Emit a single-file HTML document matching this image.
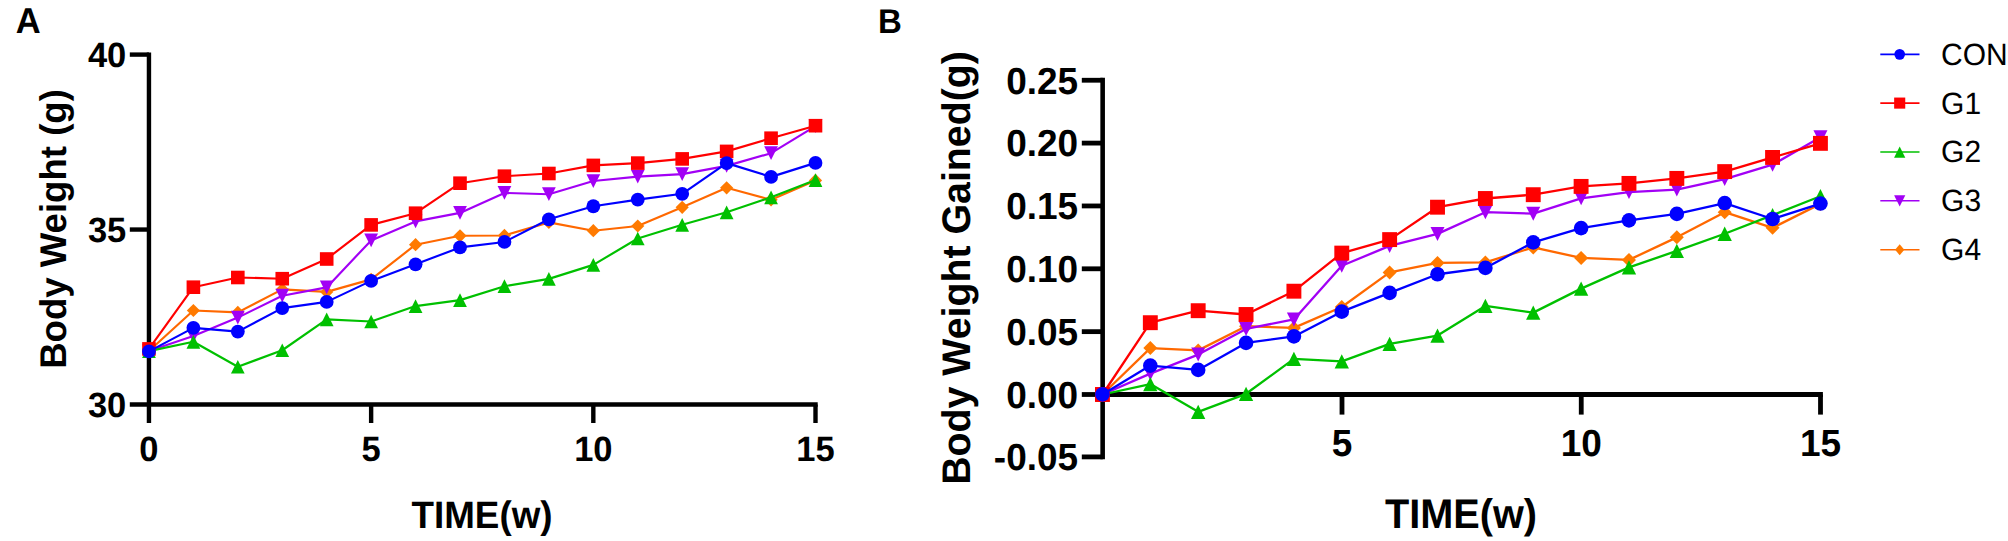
<!DOCTYPE html>
<html lang="en"><head><meta charset="utf-8"><title>Body weight</title>
<style>html,body{margin:0;padding:0;background:#fff}body{width:2008px;height:541px;overflow:hidden}svg{display:block}text{text-rendering:geometricPrecision}</style>
</head><body>
<svg width="2008" height="541" viewBox="0 0 2008 541">
<rect width="2008" height="541" fill="#fff"/>
<g font-family="'Liberation Sans', Arial, Helvetica, sans-serif" font-weight="bold" fill="#000">
<text transform="translate(15.70,33.20) scale(1,1.04)" font-size="34.5">A</text>
<text transform="translate(878.00,32.90) scale(1,1.04)" font-size="33.0">B</text>
<g stroke="#000" stroke-width="4.4" fill="none" stroke-linecap="butt">
<line x1="148.95" y1="52.4" x2="148.95" y2="423.0"/>
<line x1="129.8" y1="404.5" x2="817.7" y2="404.5"/>
<line x1="129.8" y1="54.6" x2="148.95" y2="54.6"/>
<line x1="129.8" y1="229.55" x2="148.95" y2="229.55"/>
<line x1="371.13" y1="404.5" x2="371.13" y2="423.0"/>
<line x1="593.32" y1="404.5" x2="593.32" y2="423.0"/>
<line x1="815.50" y1="404.5" x2="815.50" y2="423.0"/>
</g>
<text transform="translate(126.30,67.20) scale(1,1.02)" font-size="34.5" text-anchor="end">40</text>
<text transform="translate(126.30,242.15) scale(1,1.02)" font-size="34.5" text-anchor="end">35</text>
<text transform="translate(126.30,417.10) scale(1,1.02)" font-size="34.5" text-anchor="end">30</text>
<text transform="translate(148.95,460.70) scale(1,1.02)" font-size="34.5" text-anchor="middle">0</text>
<text transform="translate(371.13,460.70) scale(1,1.02)" font-size="34.5" text-anchor="middle">5</text>
<text transform="translate(593.32,460.70) scale(1,1.02)" font-size="34.5" text-anchor="middle">10</text>
<text transform="translate(815.50,460.70) scale(1,1.02)" font-size="34.5" text-anchor="middle">15</text>
<text transform="translate(66.00,229.00) rotate(-90) scale(1,1.015)" font-size="36.6" text-anchor="middle">Body Weight (g)</text>
<text transform="translate(482.00,527.90) scale(1,1.04)" font-size="36.8" text-anchor="middle">TIME(w)</text>
<g stroke="#000" stroke-width="4.8" fill="none">
<line x1="1102.65" y1="77.85" x2="1102.65" y2="459.29999999999995" stroke-width="4.6"/>
<line x1="1102.75" y1="394.5" x2="1822.9" y2="394.5"/>
<line x1="1081.8" y1="80.25" x2="1102.75" y2="80.25"/>
<line x1="1081.8" y1="143.10" x2="1102.75" y2="143.10"/>
<line x1="1081.8" y1="205.95" x2="1102.75" y2="205.95"/>
<line x1="1081.8" y1="268.80" x2="1102.75" y2="268.80"/>
<line x1="1081.8" y1="331.65" x2="1102.75" y2="331.65"/>
<line x1="1081.8" y1="394.50" x2="1102.75" y2="394.50"/>
<line x1="1081.8" y1="456.90" x2="1102.75" y2="456.90"/>
<line x1="1342.00" y1="394.5" x2="1342.00" y2="414.6"/>
<line x1="1581.25" y1="394.5" x2="1581.25" y2="414.6"/>
<line x1="1820.50" y1="394.5" x2="1820.50" y2="414.6"/>
</g>
<text transform="translate(1078.20,93.55) scale(1,1.02)" font-size="37.0" text-anchor="end">0.25</text>
<text transform="translate(1078.20,156.40) scale(1,1.02)" font-size="37.0" text-anchor="end">0.20</text>
<text transform="translate(1078.20,219.25) scale(1,1.02)" font-size="37.0" text-anchor="end">0.15</text>
<text transform="translate(1078.20,282.10) scale(1,1.02)" font-size="37.0" text-anchor="end">0.10</text>
<text transform="translate(1078.20,344.95) scale(1,1.02)" font-size="37.0" text-anchor="end">0.05</text>
<text transform="translate(1078.20,407.80) scale(1,1.02)" font-size="37.0" text-anchor="end">0.00</text>
<text transform="translate(1078.20,470.20) scale(1,1.02)" font-size="37.0" text-anchor="end">-0.05</text>
<text transform="translate(1342.00,455.50) scale(1,1.02)" font-size="37.0" text-anchor="middle">5</text>
<text transform="translate(1581.25,455.50) scale(1,1.02)" font-size="37.0" text-anchor="middle">10</text>
<text transform="translate(1820.50,455.50) scale(1,1.02)" font-size="37.0" text-anchor="middle">15</text>
<text transform="translate(970.30,268.00) rotate(-90) scale(1,1.015)" font-size="39.3" text-anchor="middle">Body Weight Gained(g)</text>
<text transform="translate(1461.00,527.70) scale(1,1.04)" font-size="39.7" text-anchor="middle">TIME(w)</text>
</g>
<polyline points="148.95,351.00 193.39,310.50 237.82,312.40 282.26,289.40 326.70,291.90 371.13,279.40 415.57,244.70 460.01,235.80 504.45,235.45 548.88,222.40 593.32,230.70 637.76,226.00 682.19,207.30 726.63,187.80 771.07,199.80 815.50,180.40" fill="none" stroke="#FF6800" stroke-width="2.15" stroke-linejoin="round"/>
<polygon points="148.95,344.40 155.55,351.00 148.95,357.60 142.35,351.00" fill="#FF7A00"/>
<polygon points="193.39,303.90 199.99,310.50 193.39,317.10 186.79,310.50" fill="#FF7A00"/>
<polygon points="237.82,305.80 244.42,312.40 237.82,319.00 231.22,312.40" fill="#FF7A00"/>
<polygon points="282.26,282.80 288.86,289.40 282.26,296.00 275.66,289.40" fill="#FF7A00"/>
<polygon points="326.70,285.30 333.30,291.90 326.70,298.50 320.10,291.90" fill="#FF7A00"/>
<polygon points="371.13,272.80 377.74,279.40 371.13,286.00 364.53,279.40" fill="#FF7A00"/>
<polygon points="415.57,238.10 422.17,244.70 415.57,251.30 408.97,244.70" fill="#FF7A00"/>
<polygon points="460.01,229.20 466.61,235.80 460.01,242.40 453.41,235.80" fill="#FF7A00"/>
<polygon points="504.45,228.85 511.05,235.45 504.45,242.05 497.85,235.45" fill="#FF7A00"/>
<polygon points="548.88,215.80 555.48,222.40 548.88,229.00 542.28,222.40" fill="#FF7A00"/>
<polygon points="593.32,224.10 599.92,230.70 593.32,237.30 586.72,230.70" fill="#FF7A00"/>
<polygon points="637.76,219.40 644.36,226.00 637.76,232.60 631.16,226.00" fill="#FF7A00"/>
<polygon points="682.19,200.70 688.79,207.30 682.19,213.90 675.59,207.30" fill="#FF7A00"/>
<polygon points="726.63,181.20 733.23,187.80 726.63,194.40 720.03,187.80" fill="#FF7A00"/>
<polygon points="771.07,193.20 777.67,199.80 771.07,206.40 764.47,199.80" fill="#FF7A00"/>
<polygon points="815.50,173.80 822.10,180.40 815.50,187.00 808.90,180.40" fill="#FF7A00"/>
<polyline points="148.95,351.00 193.39,336.00 237.82,317.60 282.26,295.70 326.70,287.40 371.13,240.40 415.57,221.40 460.01,212.90 504.45,192.90 548.88,194.20 593.32,181.05 637.76,176.60 682.19,174.10 726.63,165.90 771.07,153.20 815.50,126.20" fill="none" stroke="#A200F5" stroke-width="2.15" stroke-linejoin="round"/>
<polygon points="142.10,344.15 155.80,344.15 148.95,357.85" fill="#A200F5"/>
<polygon points="186.54,329.15 200.24,329.15 193.39,342.85" fill="#A200F5"/>
<polygon points="230.97,310.75 244.67,310.75 237.82,324.45" fill="#A200F5"/>
<polygon points="275.41,288.85 289.11,288.85 282.26,302.55" fill="#A200F5"/>
<polygon points="319.85,280.55 333.55,280.55 326.70,294.25" fill="#A200F5"/>
<polygon points="364.28,233.55 377.99,233.55 371.13,247.25" fill="#A200F5"/>
<polygon points="408.72,214.55 422.42,214.55 415.57,228.25" fill="#A200F5"/>
<polygon points="453.16,206.05 466.86,206.05 460.01,219.75" fill="#A200F5"/>
<polygon points="497.60,186.05 511.30,186.05 504.45,199.75" fill="#A200F5"/>
<polygon points="542.03,187.35 555.73,187.35 548.88,201.05" fill="#A200F5"/>
<polygon points="586.47,174.20 600.17,174.20 593.32,187.90" fill="#A200F5"/>
<polygon points="630.91,169.75 644.61,169.75 637.76,183.45" fill="#A200F5"/>
<polygon points="675.34,167.25 689.04,167.25 682.19,180.95" fill="#A200F5"/>
<polygon points="719.78,159.05 733.48,159.05 726.63,172.75" fill="#A200F5"/>
<polygon points="764.22,146.35 777.92,146.35 771.07,160.05" fill="#A200F5"/>
<polygon points="808.65,119.35 822.35,119.35 815.50,133.05" fill="#A200F5"/>
<polyline points="148.95,351.10 193.39,341.80 237.82,366.75 282.26,350.25 326.70,319.40 371.13,321.50 415.57,306.10 460.01,300.10 504.45,286.20 548.88,278.85 593.32,264.90 637.76,238.50 682.19,224.80 726.63,212.30 771.07,197.30 815.50,180.10" fill="none" stroke="#00C000" stroke-width="2.15" stroke-linejoin="round"/>
<polygon points="148.95,344.25 155.80,357.95 142.10,357.95" fill="#00C000"/>
<polygon points="193.39,334.95 200.24,348.65 186.54,348.65" fill="#00C000"/>
<polygon points="237.82,359.90 244.67,373.60 230.97,373.60" fill="#00C000"/>
<polygon points="282.26,343.40 289.11,357.10 275.41,357.10" fill="#00C000"/>
<polygon points="326.70,312.55 333.55,326.25 319.85,326.25" fill="#00C000"/>
<polygon points="371.13,314.65 377.99,328.35 364.28,328.35" fill="#00C000"/>
<polygon points="415.57,299.25 422.42,312.95 408.72,312.95" fill="#00C000"/>
<polygon points="460.01,293.25 466.86,306.95 453.16,306.95" fill="#00C000"/>
<polygon points="504.45,279.35 511.30,293.05 497.60,293.05" fill="#00C000"/>
<polygon points="548.88,272.00 555.73,285.70 542.03,285.70" fill="#00C000"/>
<polygon points="593.32,258.05 600.17,271.75 586.47,271.75" fill="#00C000"/>
<polygon points="637.76,231.65 644.61,245.35 630.91,245.35" fill="#00C000"/>
<polygon points="682.19,217.95 689.04,231.65 675.34,231.65" fill="#00C000"/>
<polygon points="726.63,205.45 733.48,219.15 719.78,219.15" fill="#00C000"/>
<polygon points="771.07,190.45 777.92,204.15 764.22,204.15" fill="#00C000"/>
<polygon points="815.50,173.25 822.35,186.95 808.65,186.95" fill="#00C000"/>
<polyline points="148.95,348.90 193.39,287.20 237.82,277.50 282.26,278.70 326.70,259.00 371.13,224.90 415.57,213.20 460.01,183.20 504.45,176.20 548.88,173.50 593.32,165.40 637.76,163.10 682.19,158.90 726.63,151.40 771.07,138.20 815.50,125.70" fill="none" stroke="#FF0000" stroke-width="2.15" stroke-linejoin="round"/>
<rect x="142.15" y="342.10" width="13.60" height="13.60" fill="#FF0000"/>
<rect x="186.59" y="280.40" width="13.60" height="13.60" fill="#FF0000"/>
<rect x="231.02" y="270.70" width="13.60" height="13.60" fill="#FF0000"/>
<rect x="275.46" y="271.90" width="13.60" height="13.60" fill="#FF0000"/>
<rect x="319.90" y="252.20" width="13.60" height="13.60" fill="#FF0000"/>
<rect x="364.33" y="218.10" width="13.60" height="13.60" fill="#FF0000"/>
<rect x="408.77" y="206.40" width="13.60" height="13.60" fill="#FF0000"/>
<rect x="453.21" y="176.40" width="13.60" height="13.60" fill="#FF0000"/>
<rect x="497.65" y="169.40" width="13.60" height="13.60" fill="#FF0000"/>
<rect x="542.08" y="166.70" width="13.60" height="13.60" fill="#FF0000"/>
<rect x="586.52" y="158.60" width="13.60" height="13.60" fill="#FF0000"/>
<rect x="630.96" y="156.30" width="13.60" height="13.60" fill="#FF0000"/>
<rect x="675.39" y="152.10" width="13.60" height="13.60" fill="#FF0000"/>
<rect x="719.83" y="144.60" width="13.60" height="13.60" fill="#FF0000"/>
<rect x="764.27" y="131.40" width="13.60" height="13.60" fill="#FF0000"/>
<rect x="808.70" y="118.90" width="13.60" height="13.60" fill="#FF0000"/>
<polyline points="148.95,351.40 193.39,327.85 237.82,331.60 282.26,308.10 326.70,301.90 371.13,280.90 415.57,264.35 460.01,247.40 504.45,241.95 548.88,219.30 593.32,206.25 637.76,199.60 682.19,193.80 726.63,163.10 771.07,176.90 815.50,162.90" fill="none" stroke="#0000FF" stroke-width="2.15" stroke-linejoin="round"/>
<circle cx="148.95" cy="351.40" r="6.90" fill="#0000FF"/>
<circle cx="193.39" cy="327.85" r="6.90" fill="#0000FF"/>
<circle cx="237.82" cy="331.60" r="6.90" fill="#0000FF"/>
<circle cx="282.26" cy="308.10" r="6.90" fill="#0000FF"/>
<circle cx="326.70" cy="301.90" r="6.90" fill="#0000FF"/>
<circle cx="371.13" cy="280.90" r="6.90" fill="#0000FF"/>
<circle cx="415.57" cy="264.35" r="6.90" fill="#0000FF"/>
<circle cx="460.01" cy="247.40" r="6.90" fill="#0000FF"/>
<circle cx="504.45" cy="241.95" r="6.90" fill="#0000FF"/>
<circle cx="548.88" cy="219.30" r="6.90" fill="#0000FF"/>
<circle cx="593.32" cy="206.25" r="6.90" fill="#0000FF"/>
<circle cx="637.76" cy="199.60" r="6.90" fill="#0000FF"/>
<circle cx="682.19" cy="193.80" r="6.90" fill="#0000FF"/>
<circle cx="726.63" cy="163.10" r="6.90" fill="#0000FF"/>
<circle cx="771.07" cy="176.90" r="6.90" fill="#0000FF"/>
<circle cx="815.50" cy="162.90" r="6.90" fill="#0000FF"/>
<polyline points="1102.45,394.50 1150.32,348.10 1198.18,350.40 1246.05,326.20 1293.91,327.90 1341.78,307.00 1389.64,272.40 1437.51,262.90 1485.37,262.40 1533.24,247.40 1581.10,257.90 1628.97,259.90 1676.83,237.35 1724.70,212.15 1772.56,227.85 1820.43,203.90" fill="none" stroke="#FF6800" stroke-width="2.3" stroke-linejoin="round"/>
<polygon points="1102.45,387.50 1109.45,394.50 1102.45,401.50 1095.45,394.50" fill="#FF7A00"/>
<polygon points="1150.32,341.10 1157.32,348.10 1150.32,355.10 1143.32,348.10" fill="#FF7A00"/>
<polygon points="1198.18,343.40 1205.18,350.40 1198.18,357.40 1191.18,350.40" fill="#FF7A00"/>
<polygon points="1246.05,319.20 1253.05,326.20 1246.05,333.20 1239.05,326.20" fill="#FF7A00"/>
<polygon points="1293.91,320.90 1300.91,327.90 1293.91,334.90 1286.91,327.90" fill="#FF7A00"/>
<polygon points="1341.78,300.00 1348.78,307.00 1341.78,314.00 1334.78,307.00" fill="#FF7A00"/>
<polygon points="1389.64,265.40 1396.64,272.40 1389.64,279.40 1382.64,272.40" fill="#FF7A00"/>
<polygon points="1437.51,255.90 1444.51,262.90 1437.51,269.90 1430.51,262.90" fill="#FF7A00"/>
<polygon points="1485.37,255.40 1492.37,262.40 1485.37,269.40 1478.37,262.40" fill="#FF7A00"/>
<polygon points="1533.24,240.40 1540.24,247.40 1533.24,254.40 1526.24,247.40" fill="#FF7A00"/>
<polygon points="1581.10,250.90 1588.10,257.90 1581.10,264.90 1574.10,257.90" fill="#FF7A00"/>
<polygon points="1628.97,252.90 1635.97,259.90 1628.97,266.90 1621.97,259.90" fill="#FF7A00"/>
<polygon points="1676.83,230.35 1683.83,237.35 1676.83,244.35 1669.83,237.35" fill="#FF7A00"/>
<polygon points="1724.70,205.15 1731.70,212.15 1724.70,219.15 1717.70,212.15" fill="#FF7A00"/>
<polygon points="1772.56,220.85 1779.56,227.85 1772.56,234.85 1765.56,227.85" fill="#FF7A00"/>
<polygon points="1820.43,196.90 1827.43,203.90 1820.43,210.90 1813.43,203.90" fill="#FF7A00"/>
<polyline points="1102.45,394.50 1150.32,373.60 1198.18,354.60 1246.05,328.90 1293.91,319.40 1341.78,265.80 1389.64,245.90 1437.51,233.90 1485.37,212.20 1533.24,213.70 1581.10,198.30 1628.97,192.10 1676.83,189.60 1724.70,179.10 1772.56,164.70 1820.43,137.20" fill="none" stroke="#A200F5" stroke-width="2.3" stroke-linejoin="round"/>
<polygon points="1095.45,387.50 1109.45,387.50 1102.45,401.50" fill="#A200F5"/>
<polygon points="1143.32,366.60 1157.32,366.60 1150.32,380.60" fill="#A200F5"/>
<polygon points="1191.18,347.60 1205.18,347.60 1198.18,361.60" fill="#A200F5"/>
<polygon points="1239.05,321.90 1253.05,321.90 1246.05,335.90" fill="#A200F5"/>
<polygon points="1286.91,312.40 1300.91,312.40 1293.91,326.40" fill="#A200F5"/>
<polygon points="1334.78,258.80 1348.78,258.80 1341.78,272.80" fill="#A200F5"/>
<polygon points="1382.64,238.90 1396.64,238.90 1389.64,252.90" fill="#A200F5"/>
<polygon points="1430.51,226.90 1444.51,226.90 1437.51,240.90" fill="#A200F5"/>
<polygon points="1478.37,205.20 1492.37,205.20 1485.37,219.20" fill="#A200F5"/>
<polygon points="1526.24,206.70 1540.24,206.70 1533.24,220.70" fill="#A200F5"/>
<polygon points="1574.10,191.30 1588.10,191.30 1581.10,205.30" fill="#A200F5"/>
<polygon points="1621.97,185.10 1635.97,185.10 1628.97,199.10" fill="#A200F5"/>
<polygon points="1669.83,182.60 1683.83,182.60 1676.83,196.60" fill="#A200F5"/>
<polygon points="1717.70,172.10 1731.70,172.10 1724.70,186.10" fill="#A200F5"/>
<polygon points="1765.56,157.70 1779.56,157.70 1772.56,171.70" fill="#A200F5"/>
<polygon points="1813.43,130.20 1827.43,130.20 1820.43,144.20" fill="#A200F5"/>
<polyline points="1102.45,394.50 1150.32,384.10 1198.18,411.80 1246.05,393.80 1293.91,358.90 1341.78,361.35 1389.64,343.80 1437.51,335.60 1485.37,305.90 1533.24,312.60 1581.10,288.60 1628.97,267.40 1676.83,250.90 1724.70,233.75 1772.56,215.15 1820.43,196.20" fill="none" stroke="#00C000" stroke-width="2.3" stroke-linejoin="round"/>
<polygon points="1102.45,387.35 1109.60,401.65 1095.30,401.65" fill="#00C000"/>
<polygon points="1150.32,376.95 1157.47,391.25 1143.16,391.25" fill="#00C000"/>
<polygon points="1198.18,404.65 1205.33,418.95 1191.03,418.95" fill="#00C000"/>
<polygon points="1246.05,386.65 1253.20,400.95 1238.89,400.95" fill="#00C000"/>
<polygon points="1293.91,351.75 1301.06,366.05 1286.76,366.05" fill="#00C000"/>
<polygon points="1341.78,354.20 1348.93,368.50 1334.62,368.50" fill="#00C000"/>
<polygon points="1389.64,336.65 1396.79,350.95 1382.49,350.95" fill="#00C000"/>
<polygon points="1437.51,328.45 1444.66,342.75 1430.36,342.75" fill="#00C000"/>
<polygon points="1485.37,298.75 1492.52,313.05 1478.22,313.05" fill="#00C000"/>
<polygon points="1533.24,305.45 1540.39,319.75 1526.09,319.75" fill="#00C000"/>
<polygon points="1581.10,281.45 1588.25,295.75 1573.95,295.75" fill="#00C000"/>
<polygon points="1628.97,260.25 1636.12,274.55 1621.82,274.55" fill="#00C000"/>
<polygon points="1676.83,243.75 1683.98,258.05 1669.68,258.05" fill="#00C000"/>
<polygon points="1724.70,226.60 1731.85,240.90 1717.55,240.90" fill="#00C000"/>
<polygon points="1772.56,208.00 1779.71,222.30 1765.41,222.30" fill="#00C000"/>
<polygon points="1820.43,189.05 1827.58,203.35 1813.28,203.35" fill="#00C000"/>
<polyline points="1102.45,394.50 1150.32,322.70 1198.18,310.70 1246.05,314.50 1293.91,291.20 1341.78,253.10 1389.64,239.60 1437.51,207.20 1485.37,198.50 1533.24,194.70 1581.10,186.40 1628.97,183.40 1676.83,178.40 1724.70,171.60 1772.56,157.45 1820.43,143.35" fill="none" stroke="#FF0000" stroke-width="2.3" stroke-linejoin="round"/>
<rect x="1095.00" y="387.05" width="14.90" height="14.90" fill="#FF0000"/>
<rect x="1142.87" y="315.25" width="14.90" height="14.90" fill="#FF0000"/>
<rect x="1190.73" y="303.25" width="14.90" height="14.90" fill="#FF0000"/>
<rect x="1238.60" y="307.05" width="14.90" height="14.90" fill="#FF0000"/>
<rect x="1286.46" y="283.75" width="14.90" height="14.90" fill="#FF0000"/>
<rect x="1334.33" y="245.65" width="14.90" height="14.90" fill="#FF0000"/>
<rect x="1382.19" y="232.15" width="14.90" height="14.90" fill="#FF0000"/>
<rect x="1430.06" y="199.75" width="14.90" height="14.90" fill="#FF0000"/>
<rect x="1477.92" y="191.05" width="14.90" height="14.90" fill="#FF0000"/>
<rect x="1525.79" y="187.25" width="14.90" height="14.90" fill="#FF0000"/>
<rect x="1573.65" y="178.95" width="14.90" height="14.90" fill="#FF0000"/>
<rect x="1621.52" y="175.95" width="14.90" height="14.90" fill="#FF0000"/>
<rect x="1669.38" y="170.95" width="14.90" height="14.90" fill="#FF0000"/>
<rect x="1717.25" y="164.15" width="14.90" height="14.90" fill="#FF0000"/>
<rect x="1765.11" y="150.00" width="14.90" height="14.90" fill="#FF0000"/>
<rect x="1812.98" y="135.90" width="14.90" height="14.90" fill="#FF0000"/>
<polyline points="1102.45,394.40 1150.32,365.60 1198.18,369.90 1246.05,342.90 1293.91,336.40 1341.78,311.65 1389.64,292.85 1437.51,274.25 1485.37,267.90 1533.24,242.40 1581.10,228.10 1628.97,220.35 1676.83,213.90 1724.70,203.05 1772.56,219.00 1820.43,203.55" fill="none" stroke="#0000FF" stroke-width="2.3" stroke-linejoin="round"/>
<circle cx="1102.45" cy="394.40" r="7.30" fill="#0000FF"/>
<circle cx="1150.32" cy="365.60" r="7.30" fill="#0000FF"/>
<circle cx="1198.18" cy="369.90" r="7.30" fill="#0000FF"/>
<circle cx="1246.05" cy="342.90" r="7.30" fill="#0000FF"/>
<circle cx="1293.91" cy="336.40" r="7.30" fill="#0000FF"/>
<circle cx="1341.78" cy="311.65" r="7.30" fill="#0000FF"/>
<circle cx="1389.64" cy="292.85" r="7.30" fill="#0000FF"/>
<circle cx="1437.51" cy="274.25" r="7.30" fill="#0000FF"/>
<circle cx="1485.37" cy="267.90" r="7.30" fill="#0000FF"/>
<circle cx="1533.24" cy="242.40" r="7.30" fill="#0000FF"/>
<circle cx="1581.10" cy="228.10" r="7.30" fill="#0000FF"/>
<circle cx="1628.97" cy="220.35" r="7.30" fill="#0000FF"/>
<circle cx="1676.83" cy="213.90" r="7.30" fill="#0000FF"/>
<circle cx="1724.70" cy="203.05" r="7.30" fill="#0000FF"/>
<circle cx="1772.56" cy="219.00" r="7.30" fill="#0000FF"/>
<circle cx="1820.43" cy="203.55" r="7.30" fill="#0000FF"/>
<g font-family="'Liberation Sans', Arial, Helvetica, sans-serif" font-size="30" fill="#000">
<line x1="1880.3" y1="54.37" x2="1919.5" y2="54.37" stroke="#0000FF" stroke-width="1.6"/>
<circle cx="1899.70" cy="54.37" r="5.35" fill="#0000FF"/>
<text transform="translate(1941.10,64.77) scale(1,1.025)" font-size="30">CON</text>
<line x1="1880.3" y1="103.1" x2="1919.5" y2="103.1" stroke="#FF0000" stroke-width="1.6"/>
<rect x="1894.15" y="97.55" width="11.10" height="11.10" fill="#FF0000"/>
<text transform="translate(1941.10,113.50) scale(1,1.025)" font-size="30">G1</text>
<line x1="1880.3" y1="152.05" x2="1919.5" y2="152.05" stroke="#00C000" stroke-width="1.6"/>
<polygon points="1899.70,146.45 1905.30,157.65 1894.10,157.65" fill="#00C000"/>
<text transform="translate(1941.10,162.45) scale(1,1.025)" font-size="30">G2</text>
<line x1="1880.3" y1="200.8" x2="1919.5" y2="200.8" stroke="#A200F5" stroke-width="1.6"/>
<polygon points="1894.10,195.20 1905.30,195.20 1899.70,206.40" fill="#A200F5"/>
<text transform="translate(1941.10,211.20) scale(1,1.025)" font-size="30">G3</text>
<line x1="1880.3" y1="249.7" x2="1919.5" y2="249.7" stroke="#FF6800" stroke-width="1.6"/>
<polygon points="1899.70,244.25 1904.30,249.70 1899.70,255.15 1895.10,249.70" fill="#FF7A00"/>
<text transform="translate(1941.10,260.10) scale(1,1.025)" font-size="30">G4</text>
</g>
</svg>
</body></html>
